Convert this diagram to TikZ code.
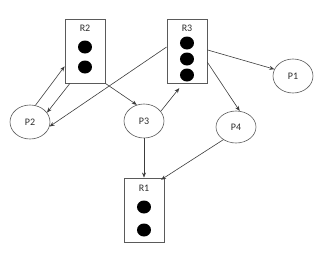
\documentclass[tikz,border=0pt]{standalone}
\usepackage{fontspec}
\setmainfont{Carlito}
\usetikzlibrary{arrows.meta, positioning, shapes.geometric}
\definecolor{linecol}{RGB}{60, 60, 60}
\definecolor{boxcol}{RGB}{90, 90, 90}
\definecolor{textcol}{RGB}{45, 45, 45}
\tikzset{
  res/.style   = {draw=boxcol, line width=0.9pt, minimum width=40pt,
                  minimum height=64pt, inner sep=0pt},
  reslbl/.style = {font=\fontsize{10}{11}\selectfont, text=textcol, inner sep=0pt},
  inst/.style  = {ellipse, fill=black, minimum width=14pt, minimum height=13pt,
                  inner sep=0pt},
  proc/.style  = {ellipse, draw=boxcol, line width=0.6pt, minimum width=40pt,
                  minimum height=34pt, inner sep=0pt,
                  font=\fontsize{10}{11}\selectfont, text=textcol},
  edge/.style  = {-{Stealth[length=5pt, width=4pt]}, draw=linecol,
                  line width=0.6pt},
}

\begin{document}
\begin{tikzpicture}[x=1pt, y=-1pt]

  \useasboundingbox (0,0) rectangle (325,263);

  %% ---------------- resources ----------------
  \node[res] (R2) at (85,51) {};
  \node[res] (R3) at (187,51) {};
  \node[res] (R1) at (144,210) {};

  \node[reslbl] (R2lbl) at (85,28) {R2};
  \node[reslbl] (R3lbl) at (187,28) {R3};
  \node[reslbl] (R1lbl) at (144,188) {R1};

  % instances held by each resource
  \foreach \y [count=\i] in {47,67}
    \node[inst] (R2d\i) at (85,\y) {};
  \foreach \y [count=\i] in {43,59,75}
    \node[inst] (R3d\i) at (187,\y) {};
  \foreach \y [count=\i] in {207,230}
    \node[inst] (R1d\i) at (144,\y) {};

  %% ---------------- processes ----------------
  \node[proc] (P1) at (293,76) {P1};
  \node[proc] (P2) at (30,122) {P2};
  \node[proc] (P3) at (144,121) {P3};
  \node[proc, minimum height=32pt] (P4) at (236,127) {P4};

  %% ---------------- requests and assignments ----------------
  \draw[edge] (P2.72) -- (R2.217);
  \draw[edge] (R2.245) -- (P2.29);
  \draw[edge] (R3.169) -- (P2.347);
  \draw[edge] (R2.south east) -- (P3.114);
  \draw[edge, shorten >=6pt] (P3.30) -- (R3.263);
  \draw[edge] (R3.3) -- (P1.160);
  \draw[edge] (R3.331) -- (P4.77);
  \draw[edge] (P3.south) -- (R1.north);
  \draw[edge, shorten >=-4pt] (P4.225) -- (R1.north east);

\end{tikzpicture}
\end{document}
